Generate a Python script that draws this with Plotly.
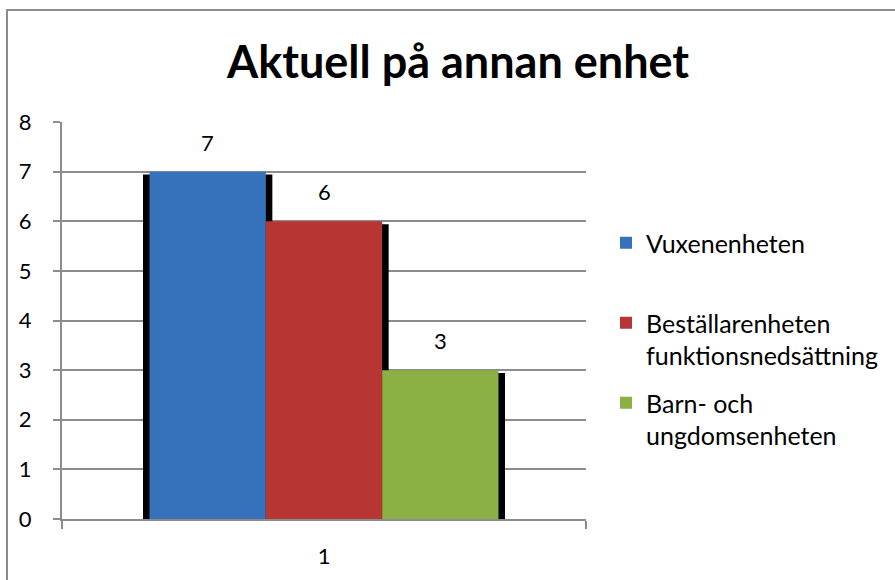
import plotly.graph_objects as go

# ---- data ----
title_text = "Aktuell på annan enhet"
category_labels = ["1"]
series_names = ["Vuxenenheten", "Beställarenheten<br>funktionsnedsättning", "Barn- och<br>ungdomsenheten"]
series_values = [7, 6, 3]
series_colors = ["#3572bb", "#b73533", "#8bb043"]
y_ticks = [0, 1, 2, 3, 4, 5, 6, 7, 8]

FONT = "Lato"
W, H = 895, 580
L, R, T, B = 62, 309, 122, 61
plot_w = W - L - R
plot_h = H - T - B

bar_w = 0.222
group_start = -1.5 * bar_w
offsets = [group_start + i * bar_w for i in range(len(series_values))]
pad = 6.5 / plot_w

legend_ids = ["legend", "legend2", "legend3"]
legend_line_centers = [243, 323, 403]


def py(px):
    """pixel row -> paper y"""
    return (H - B - px) / plot_h


fig = go.Figure()

# shadows
for v, off in zip(series_values, offsets):
    fig.add_trace(go.Bar(
        x=[0], y=[v - 0.06], width=[bar_w + 2 * pad], offset=off - pad,
        marker=dict(color="#000000", line=dict(width=0)),
        showlegend=False, hoverinfo="skip"))

# bars
for i, (name, v, c, off) in enumerate(zip(series_names, series_values, series_colors, offsets)):
    fig.add_trace(go.Bar(
        x=[0], y=[v], width=[bar_w], offset=off, name=name,
        marker=dict(color=c, line=dict(width=0)),
        legend=legend_ids[i], showlegend=True))
    fig.add_annotation(x=off + bar_w / 2, y=v, xref="x", yref="y", text=str(v),
                       showarrow=False, yanchor="bottom", yshift=14,
                       font=dict(family=FONT, size=22, color="#000000"))

grid = "#8c8c8c"
leg_font = dict(family=FONT, size=25, color="#000000")
legends = {}
for lid, yc in zip(legend_ids, legend_line_centers):
    legends[lid] = dict(x=(606 - L) / plot_w, xanchor="left", y=py(yc - 23),
                        yanchor="top", font=leg_font, valign="top",
                        bgcolor="rgba(0,0,0,0)")

fig.update_layout(
    width=W, height=H,
    margin=dict(l=L, r=R, t=T, b=B, autoexpand=False),
    paper_bgcolor="white", plot_bgcolor="white",
    barmode="overlay",
    font=dict(family=FONT, size=22, color="#000000"),
    title=dict(text=f"<b>{title_text}</b>", x=458 / W, xanchor="center",
               y=1 - 62 / H, yanchor="middle", yref="container",
               font=dict(family=FONT, size=45, color="#000000")),
    showlegend=True,
    **legends,
    xaxis=dict(range=[-0.5, 0.5], tickvals=[0], ticktext=category_labels,
               ticks="", showgrid=False, zeroline=False, showline=True,
               linecolor=grid, linewidth=2, ticklabelstandoff=17,
               tickfont=dict(family=FONT, size=22),
               minor=dict(tickvals=[-0.5, 0.5], ticks="outside", ticklen=8,
                          tickcolor=grid, tickwidth=2, showgrid=False)),
    yaxis=dict(range=[0, 8], tickvals=y_ticks, ticks="outside", ticklen=7,
               tickcolor=grid, tickwidth=2, showgrid=True, gridcolor=grid,
               gridwidth=1.5, zeroline=False, showline=True, linecolor=grid,
               linewidth=2, ticklabelstandoff=17, tickfont=dict(family=FONT, size=22)),
)

# outer chart border
fig.add_shape(type="rect", xref="paper", yref="paper",
              x0=(7 - L) / plot_w, x1=(905 - L) / plot_w,
              y0=py(600), y1=py(10),
              line=dict(color="#8c8c8c", width=2), fillcolor="rgba(0,0,0,0)",
              layer="below")

fig.write_html("out.html", config={"displayModeBar": False},
               post_script="document.body.style.margin='0';document.body.style.overflow='hidden';")
